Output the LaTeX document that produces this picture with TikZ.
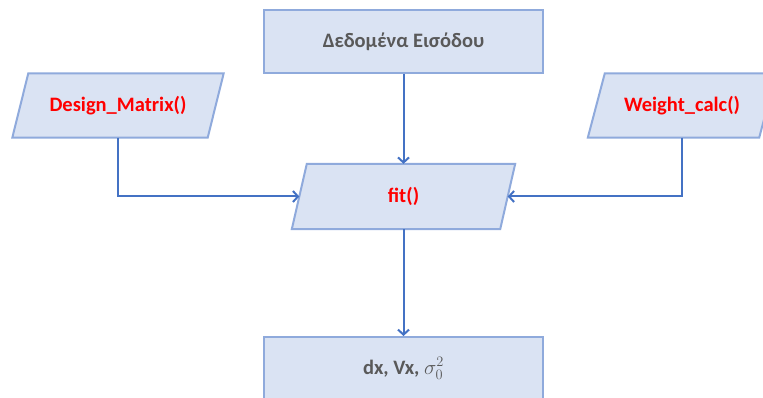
\documentclass[tikz,border=0pt]{standalone}
\usepackage{fontspec}
\setmainfont{Carlito}
\usetikzlibrary{arrows.meta}
\definecolor{boxfill}{HTML}{DAE3F3}
\definecolor{boxline}{HTML}{8FAADC}
\definecolor{arrowc}{HTML}{4472C4}
\definecolor{graytxt}{HTML}{595959}
\definecolor{redtxt}{HTML}{FF0000}
\begin{document}
\begin{tikzpicture}[x=1pt,y=-1pt,
  shapeline/.style={draw=boxline,fill=boxfill,line width=2pt},
  rectbox/.style={shapeline,minimum width=279pt,minimum height=63pt,inner sep=0pt,
    font=\fontsize{20.5}{24}\selectfont\bfseries,text=graytxt},
  parabox/.style={minimum height=64pt,inner sep=0pt,
    font=\fontsize{20.5}{24}\selectfont\bfseries,text=redtxt},
  conn/.style={draw=arrowc,line width=2pt,-{Straight Barb[length=5pt,width=11pt,line width=2pt]}}]
\useasboundingbox (0,0) rectangle (763,398);
\begin{scope}
\clip (0,0) rectangle (763,398);
% top box
\node[rectbox] (inp) at (403.5,41.5) {Δεδομένα Εισόδου};
% bottom box
\node[rectbox] (out) at (403.5,368.5) {dx, Vx, \textmd{$\sigma_{0}^{2}$}};
% parallelogram text nodes
\node[parabox,minimum width=195pt] (dm) at (118,105.5) {};
\node[parabox,minimum width=171pt] (wc) at (682,105.5) {};
\node[parabox,minimum width=208pt,minimum height=65pt] (fit) at (403.5,196.5) {};
% parallelogram outlines
\foreach \n/\s in {dm/8,wc/8.5,fit/7.5}{
  \draw[shapeline] ([xshift=\s pt]\n.north west) -- ([xshift=\s pt]\n.north east)
    -- ([xshift=-\s pt]\n.south east) -- ([xshift=-\s pt]\n.south west) -- cycle;
}
\node[parabox,minimum width=0pt] at (dm) {Design\_Matrix()};
\node[parabox,minimum width=0pt] at (wc) {Weight\_calc()};
\node[parabox,minimum width=0pt] at (fit) {fit()};
% connectors
\draw[conn] (inp.south) -- (fit.north);
\draw[conn] (fit.south) -- (out.north);
\draw[conn] (dm.south) |- (fit.west);
\draw[conn] (wc.south) |- (fit.east);
\end{scope}
\end{tikzpicture}
\end{document}
